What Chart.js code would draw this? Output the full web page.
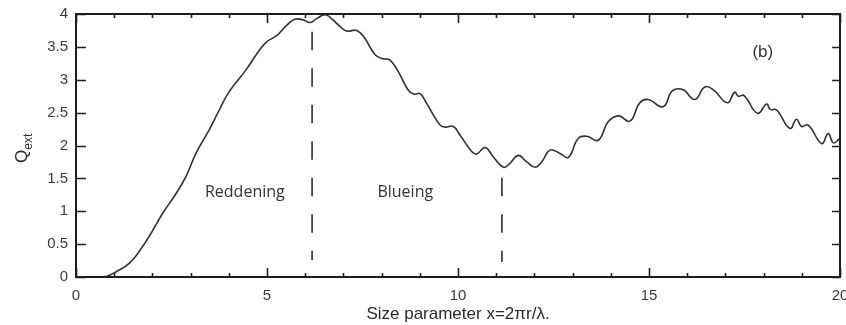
<!DOCTYPE html>
<html>
<head>
<meta charset="utf-8">
<script src="https://cdn.jsdelivr.net/npm/chart.js@4.4.1/dist/chart.umd.min.js"></script>
<style>
  html, body { margin: 0; padding: 0; background: #fff; }
  #wrap { width: 846px; height: 325px; position: relative; }
</style>
</head>
<body>
<div id="wrap"><canvas id="qext"></canvas></div>
<script>
// size parameter x = 2*pi*r/lambda
var sizeParam = [0, 0.55, 0.8, 1.05, 1.4, 1.74, 2.01, 2.27, 2.62, 2.88, 3.14, 3.49, 3.75, 4.01, 4.45, 4.8, 5.0, 5.25,
  5.52, 5.73, 5.95, 6.13, 6.3, 6.52, 6.69, 6.91, 7.09, 7.35, 7.56, 7.83, 8.04, 8.22, 8.44, 8.7, 8.85, 9.01,
  9.18, 9.53, 9.66, 9.88, 10.05, 10.36, 10.49, 10.71, 10.92, 11.19, 11.36, 11.58, 11.8, 12.02, 12.19, 12.41,
  12.67, 12.89, 13.15, 13.37, 13.67, 13.93, 14.2, 14.5, 14.76, 14.98, 15.37, 15.61, 15.88, 16.2, 16.46, 16.68,
  17.05, 17.24, 17.34, 17.49, 17.84, 18.08, 18.17, 18.34, 18.69, 18.86, 18.99, 19.17, 19.52, 19.69, 19.83, 20.0];
// extinction efficiency
var qExt = [0, 0, 0.01, 0.08, 0.21, 0.46, 0.71, 0.97, 1.27, 1.53, 1.88, 2.24, 2.54, 2.82, 3.15, 3.45, 3.58, 3.67,
  3.83, 3.92, 3.91, 3.87, 3.93, 3.99, 3.93, 3.81, 3.74, 3.75, 3.63, 3.38, 3.32, 3.3, 3.12, 2.84, 2.78, 2.79,
  2.64, 2.31, 2.28, 2.29, 2.16, 1.91, 1.87, 1.97, 1.83, 1.67, 1.73, 1.85, 1.75, 1.67, 1.75, 1.93,
  1.88, 1.82, 2.11, 2.14, 2.08, 2.36, 2.45, 2.37, 2.65, 2.7, 2.59, 2.83, 2.85, 2.7, 2.89, 2.85,
  2.65, 2.81, 2.75, 2.76, 2.49, 2.63, 2.55, 2.54, 2.26, 2.4, 2.29, 2.31, 2.03, 2.18, 2.04, 2.11];

// reddening / blueing boundaries
var boundaryX = [6.18, 11.15];
var boundaryTop = [3.73, 1.51];
var boundaryBottom = [0.26, 0.23];

var xTicks = [0, 5, 10, 15, 20];
var regionLabels = ['Reddening', 'Blueing'];
var panelLabel = '(b)';

var curve = sizeParam.map(function(v, i) { return {x: v, y: qExt[i]}; });

var datasets = [{
  data: curve,
  showLine: true,
  borderColor: '#303030',
  borderWidth: 1.6,
  pointRadius: 0,
  tension: 0.45,
  clip: 2
}];
boundaryX.forEach(function(bx, i) {
  datasets.push({
    data: [{x: bx, y: boundaryTop[i]}, {x: bx, y: boundaryBottom[i]}],
    showLine: true,
    borderColor: '#202020',
    borderWidth: 1.5,
    borderDash: [18.5, 18],
    pointRadius: 0
  });
});

// frame, inward ticks, Q_ext title and region labels
var decor = {
  id: 'decor',
  afterDraw: function(chart) {
    var ctx = chart.ctx, a = chart.chartArea;
    var xs = chart.scales.x, ys = chart.scales.y;
    ctx.save();
    ctx.strokeStyle = '#1e1e1e';
    ctx.lineWidth = 2;
    ctx.strokeRect(a.left, a.top, a.right - a.left, a.bottom - a.top);
    ctx.lineWidth = 1.6;
    ctx.beginPath();
    for (var v = 0; v <= 20; v++) {
      var px = Math.round(xs.getPixelForValue(v)) + 0.5;
      var len = (v % 5 === 0) ? 9 : 4;
      ctx.moveTo(px, a.bottom); ctx.lineTo(px, a.bottom - len);
      ctx.moveTo(px, a.top); ctx.lineTo(px, a.top + len);
    }
    for (var q = 0; q <= 4; q += 0.5) {
      var py = Math.round(ys.getPixelForValue(q)) + 0.5;
      ctx.moveTo(a.left, py); ctx.lineTo(a.left + 10, py);
      ctx.moveTo(a.right, py); ctx.lineTo(a.right - 8, py);
    }
    ctx.stroke();

    // rotated Q_ext
    ctx.fillStyle = '#2a2a2a';
    ctx.translate(27, 163);
    ctx.rotate(-Math.PI / 2);
    ctx.textBaseline = 'alphabetic';
    ctx.textAlign = 'left';
    ctx.font = '17px "Liberation Sans", Arial, sans-serif';
    ctx.fillText('Q', 0, 0);
    var w = ctx.measureText('Q').width;
    ctx.font = '12px "Liberation Sans", Arial, sans-serif';
    ctx.fillText('ext', w, 5);
    ctx.setTransform(1, 0, 0, 1, 0, 0);

    ctx.fillStyle = '#333';
    ctx.textAlign = 'center';
    ctx.textBaseline = 'middle';
    ctx.font = '16px "Open Sans", sans-serif';
    ctx.fillText(regionLabels[0], xs.getPixelForValue(4.42), ys.getPixelForValue(1.28));
    ctx.fillText(regionLabels[1], xs.getPixelForValue(8.62), ys.getPixelForValue(1.28));
    ctx.font = '17px "Liberation Sans", Arial, sans-serif';
    ctx.fillText(panelLabel, xs.getPixelForValue(17.98), ys.getPixelForValue(3.41));
    ctx.restore();
  }
};

new Chart(document.getElementById('qext'), {
  type: 'scatter',
  data: { datasets: datasets },
  plugins: [decor],
  options: {
    responsive: true,
    maintainAspectRatio: false,
    animation: false,
    layout: { padding: { top: 14, right: 6, left: 0, bottom: 0 } },
    plugins: { legend: { display: false }, tooltip: { enabled: false } },
    scales: {
      x: {
        type: 'linear', min: 0, max: 20,
        afterFit: function(s) { s.height = 48; s.paddingLeft = 0; s.paddingRight = 0; },
        afterBuildTicks: function(s) { s.ticks = xTicks.map(function(v) { return {value: v}; }); },
        grid: { display: false, drawTicks: false },
        border: { display: false },
        ticks: { color: '#3a3a3a', padding: 10, maxRotation: 0, autoSkip: false,
          font: { family: '"Liberation Sans", Arial, sans-serif', size: 15 } },
        title: { display: true, text: 'Size parameter x=2\u03c0r/\u03bb.', color: '#2a2a2a',
          padding: { top: 0, bottom: 0 },
          font: { family: '"Liberation Sans", Arial, sans-serif', size: 17 } }
      },
      y: {
        type: 'linear', min: 0, max: 4,
        afterFit: function(s) { s.width = 76; s.paddingTop = 0; s.paddingBottom = 0; },
        grid: { display: false, drawTicks: false },
        border: { display: false },
        ticks: { stepSize: 0.5, color: '#3a3a3a', padding: 8,
          callback: function(v) { return String(v); },
          font: { family: '"Liberation Sans", Arial, sans-serif', size: 15 } }
      }
    }
  }
});
</script>
</body>
</html>
